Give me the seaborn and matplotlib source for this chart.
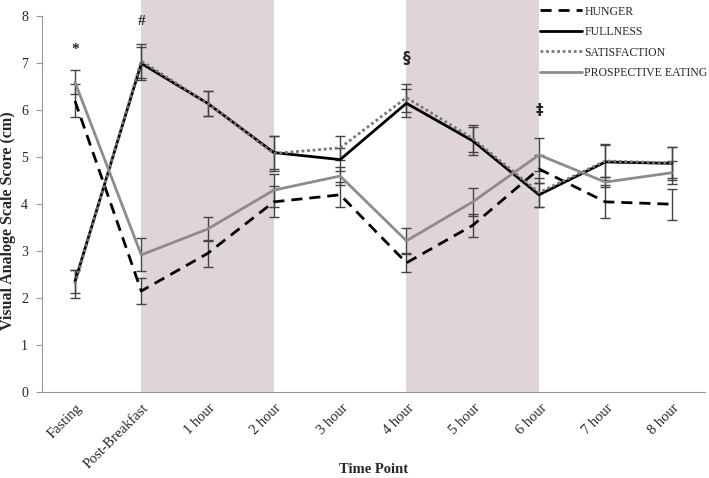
import numpy as np
import pandas as pd
import matplotlib
matplotlib.use("Agg")
import matplotlib.pyplot as plt
import matplotlib.transforms as mtransforms
import seaborn as sns

# data
time_points = ["Fasting", "Post-Breakfast", "1 hour", "2 hour", "3 hour",
               "4 hour", "5 hour", "6 hour", "7 hour", "8 hour"]
hunger = [6.2, 2.15, 2.95, 4.05, 4.2, 2.75, 3.55, 4.75, 4.05, 4.0]
fullness = [2.35, 7.0, 6.15, 5.1, 4.95, 6.15, 5.35, 4.2, 4.9, 4.87]
satisfaction = [2.3, 7.05, 6.15, 5.08, 5.2, 6.27, 5.4, 4.25, 4.92, 4.88]
prospective = [6.6, 2.92, 3.47, 4.3, 4.6, 3.22, 4.05, 5.05, 4.47, 4.67]
hunger_err = [0.35, 0.27, 0.28, 0.33, 0.27, 0.2, 0.25, 0.3, 0.35, 0.33]
fullness_err = [0.25, 0.35, 0.27, 0.35, 0.25, 0.3, 0.3, 0.25, 0.38, 0.35]
satisfaction_err = [0.3, 0.37, 0.27, 0.38, 0.25, 0.3, 0.28, 0.3, 0.35, 0.33]
prospective_err = [0.25, 0.35, 0.25, 0.35, 0.2, 0.28, 0.3, 0.35, 0.1, 0.25]
shaded = [("Post-Breakfast", "2 hour"), ("4 hour", "6 hour")]
marks = [("Fasting", 7.3, "*"), ("Post-Breakfast", 7.9, "#"),
         ("4 hour", 7.1, "§"), ("6 hour", 6.0, "‡")]

series = {
    "HUNGER": (hunger, hunger_err),
    "FULLNESS": (fullness, fullness_err),
    "SATISFACTION": (satisfaction, satisfaction_err),
    "PROSPECTIVE EATING": (prospective, prospective_err),
}
styles = {
    "HUNGER": dict(color="black", ls=(0, (4, 2.5))),
    "FULLNESS": dict(color="black", ls="-"),
    "SATISFACTION": dict(color="#777777", ls=(0, (1, 1))),
    "PROSPECTIVE EATING": dict(color="#8c8c8c", ls="-"),
}

rows = []
for name, (vals, errs) in series.items():
    for t, v, e in zip(time_points, vals, errs):
        rows.append({"Time": t, "Score": v, "Err": e, "Measure": name})
df = pd.DataFrame(rows)
pos = {t: i for i, t in enumerate(time_points)}
df["x"] = df["Time"].map(pos)

sns.set_style("white")
plt.rcParams["font.family"] = ["Liberation Serif", "DejaVu Serif"]

fig = plt.figure(figsize=(7.09, 4.78), dpi=100)
ax = fig.add_axes([0.059, 0.18, 0.935, 0.82])

for a, b in shaded:
    ax.axvspan(pos[a], pos[b], color="#dfd5d7", lw=0, zorder=0)

for name in series:
    sub = df[df["Measure"] == name]
    st = styles[name]
    ax.errorbar(sub["x"], sub["Score"], yerr=sub["Err"], fmt="none",
                ecolor="#444444", elinewidth=1, capsize=3.5, capthick=1, zorder=2)
    sns.lineplot(data=sub, x="x", y="Score", ax=ax, color=st["color"],
                 linestyle=st["ls"], linewidth=2, label=name, zorder=3,
                 errorbar=None)

for t, y, s in marks:
    ax.text(pos[t], y, s, ha="center", va="center", fontsize=11,
            fontweight="bold", family=["DejaVu Sans"] if s in "§‡" else None)

ax.set_xlim(-0.5, len(time_points) - 0.5)
ax.set_ylim(0, 8.35)
ax.set_yticks(range(0, 9))
ax.set_xticks(range(len(time_points)))
ax.set_xticklabels(time_points, rotation=45, ha="right", rotation_mode="anchor",
                   fontsize=10.5)
ax.set_xticks(np.arange(-0.5, len(time_points)), minor=True)
ax.tick_params(axis="x", which="major", length=0, pad=2)
ax.tick_params(axis="x", which="minor", length=4, color="#999999", direction="out")
ax.tick_params(axis="y", length=4, color="#999999", direction="out", labelsize=10,
               left=True, pad=6)
# nudge the rotated labels down (after tick_params, which resets transforms)
offset = mtransforms.ScaledTranslation(1 / 100, -7 / 100, fig.dpi_scale_trans)
for lab in ax.get_xticklabels():
    lab.set_transform(lab.get_transform() + offset)
for sp in ["top", "right"]:
    ax.spines[sp].set_visible(False)
for sp in ["left", "bottom"]:
    ax.spines[sp].set_color("#999999")
ax.spines["left"].set_bounds(0, 8)

ax.set_xlabel("Time Point", fontsize=10.5, fontweight="bold")
ax.xaxis.set_label_coords(0.5, -0.181)
ax.set_ylabel("Visual Analoge Scale Score (cm)", fontsize=11.5, fontweight="bold")
ax.yaxis.set_label_coords(-0.039, 0.436)

leg = ax.legend(loc="upper right", bbox_to_anchor=(1.02, 1.013), frameon=False,
                fontsize=8.5, handlelength=3.6, handletextpad=0.15,
                labelspacing=0.72)

fig.savefig("out.png", dpi=100)
